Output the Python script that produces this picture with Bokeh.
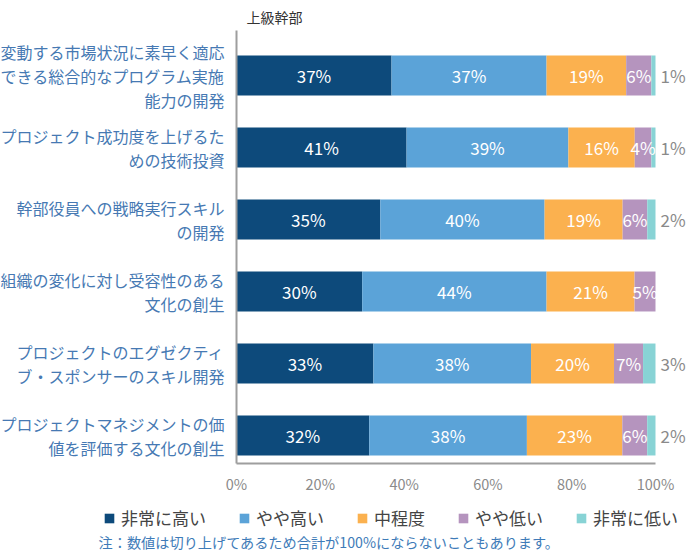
from bokeh.plotting import figure
from bokeh.models import Range1d, ColumnDataSource, Label, Legend, LegendItem
from bokeh.core.properties import value
from bokeh.embed import file_html
from bokeh.resources import INLINE

FONT = "Noto Sans CJK JP"

title_text = "上級幹部"
categories = [
    "変動する市場状況に素早く適応\nできる総合的なプログラム実施\n能力の開発",
    "プロジェクト成功度を上げるた\nめの技術投資",
    "幹部役員への戦略実行スキル\nの開発",
    "組織の変化に対し受容性のある\n文化の創生",
    "プロジェクトのエグゼクティ\nブ・スポンサーのスキル開発",
    "プロジェクトマネジメントの価\n値を評価する文化の創生",
]
series_names = ["非常に高い", "やや高い", "中程度", "やや低い", "非常に低い"]
very_high = [37, 41, 35, 30, 33, 32]
high = [37, 39, 40, 44, 38, 38]
medium = [19, 16, 19, 21, 20, 23]
low = [6, 4, 6, 5, 7, 6]
very_low = [1, 1, 2, 0, 3, 2]
x_ticks = [0, 20, 40, 60, 80, 100]
x_tick_labels = ["0%", "20%", "40%", "60%", "80%", "100%"]
footnote = "注：数値は切り上げてあるため合計が100%にならないこともあります。"

colors = ["#0d4a7b", "#5ba3d8", "#fbb14f", "#b594be", "#88d3d5"]

# ---- layout constants (pixels) ----
W, H = 689, 551
X0_PX, X100_PX = 236, 655          # where 0% and 100% sit
ROW0_PX, ROW_STEP = 75, 72         # first row centre, row pitch
AXIS_TOP_PX, AXIS_BOTTOM_PX = 30, 463
px_per_unit = (X100_PX - X0_PX) / 100.0

def ydata(px):
    return (px - ROW0_PX) / ROW_STEP

series = [very_high, high, medium, low, very_low]
keys = ["s0", "s1", "s2", "s3", "s4"]
rows = list(range(len(categories)))

# bars drawn scaled so each row spans 100%
totals = [sum(s[i] for s in series) for i in rows]
data = {"y": rows, "cat": categories}
for k, s in zip(keys, series):
    data[k] = [s[i] * 100.0 / totals[i] for i in rows]
source = ColumnDataSource(data)

p = figure(width=W, height=H, output_backend="svg", toolbar_location=None,
           x_range=Range1d(-X0_PX / px_per_unit, (W - X0_PX) / px_per_unit),
           y_range=Range1d(ydata(H), ydata(0)),
           min_border=0, x_axis_location=None, y_axis_location=None)
p.outline_line_color = None
p.grid.visible = False
p.background_fill_color = "white"
p.border_fill_color = "white"

bars = p.hbar_stack(keys, y="y", height=0.555, source=source, color=colors, line_color=None)

# axis lines
y_top, y_bot = ydata(AXIS_TOP_PX), ydata(AXIS_BOTTOM_PX)
p.segment(x0=[0, 0], y0=[y_top, y_bot], x1=[0, 100], y1=[y_bot, y_bot],
          line_color="#9e9e9e", line_width=2)

# x tick labels
p.text(x=x_ticks, y=[y_bot] * len(x_ticks), text=x_tick_labels, y_offset=20,
       text_color="#8a8a8a", text_font=value(FONT), text_font_size="14.5px",
       text_align="center", text_baseline="middle")

# category labels
p.text(x=0, y="y", text="cat", source=source, x_offset=-12,
       text_color="#4679b3", text_font=value(FONT), text_font_size="16px",
       text_align="right", text_baseline="middle", text_line_height=1.0)

# title
p.add_layout(Label(x=0, y=y_top, x_offset=10, y_offset=14, text=title_text,
                   text_font=FONT, text_font_size="14px", text_color="#333333",
                   text_baseline="middle"))

# value labels
in_x, in_y, in_t = [], [], []
out_x, out_y, out_t = [], [], []
for i in rows:
    cum = 0.0
    for j, k in enumerate(keys):
        w = data[k][i]
        v = series[j][i]
        if j < 4:
            in_x.append(cum + w / 2)
            in_y.append(i)
            in_t.append(f"{v}%")
        elif v > 0:
            out_x.append(cum + w)
            out_y.append(i)
            out_t.append(f"{v}%")
        cum += w
p.text(x=in_x, y=in_y, text=in_t, text_color="white", text_font=value(FONT),
       text_font_size="17px", text_align="center", text_baseline="middle")
p.text(x=out_x, y=out_y, text=out_t, text_color="#8a8a8a", text_font=value(FONT),
       text_font_size="17px", text_align="left", text_baseline="middle", x_offset=5)

# legend
items = [LegendItem(label=n, renderers=[r]) for n, r in zip(series_names, bars)]
leg = Legend(items=items, orientation="horizontal", location=(103, 21))
leg.border_line_color = None
leg.background_fill_alpha = 0
leg.label_text_font = FONT
leg.label_text_font_size = "17px"
leg.label_text_color = "#444444"
leg.glyph_width = 12
leg.glyph_height = 12
leg.label_standoff = 6
leg.spacing = 32
leg.padding = 0
leg.margin = 0
p.add_layout(leg, "center")

# footnote
p.add_layout(Label(x=0, y=y_bot, x_offset=-138, y_offset=-78, text=footnote,
                   text_font=FONT, text_font_size="14.2px", text_color="#3e7bb8",
                   text_baseline="middle"))

open("out.html", "w").write(file_html(p, INLINE))
